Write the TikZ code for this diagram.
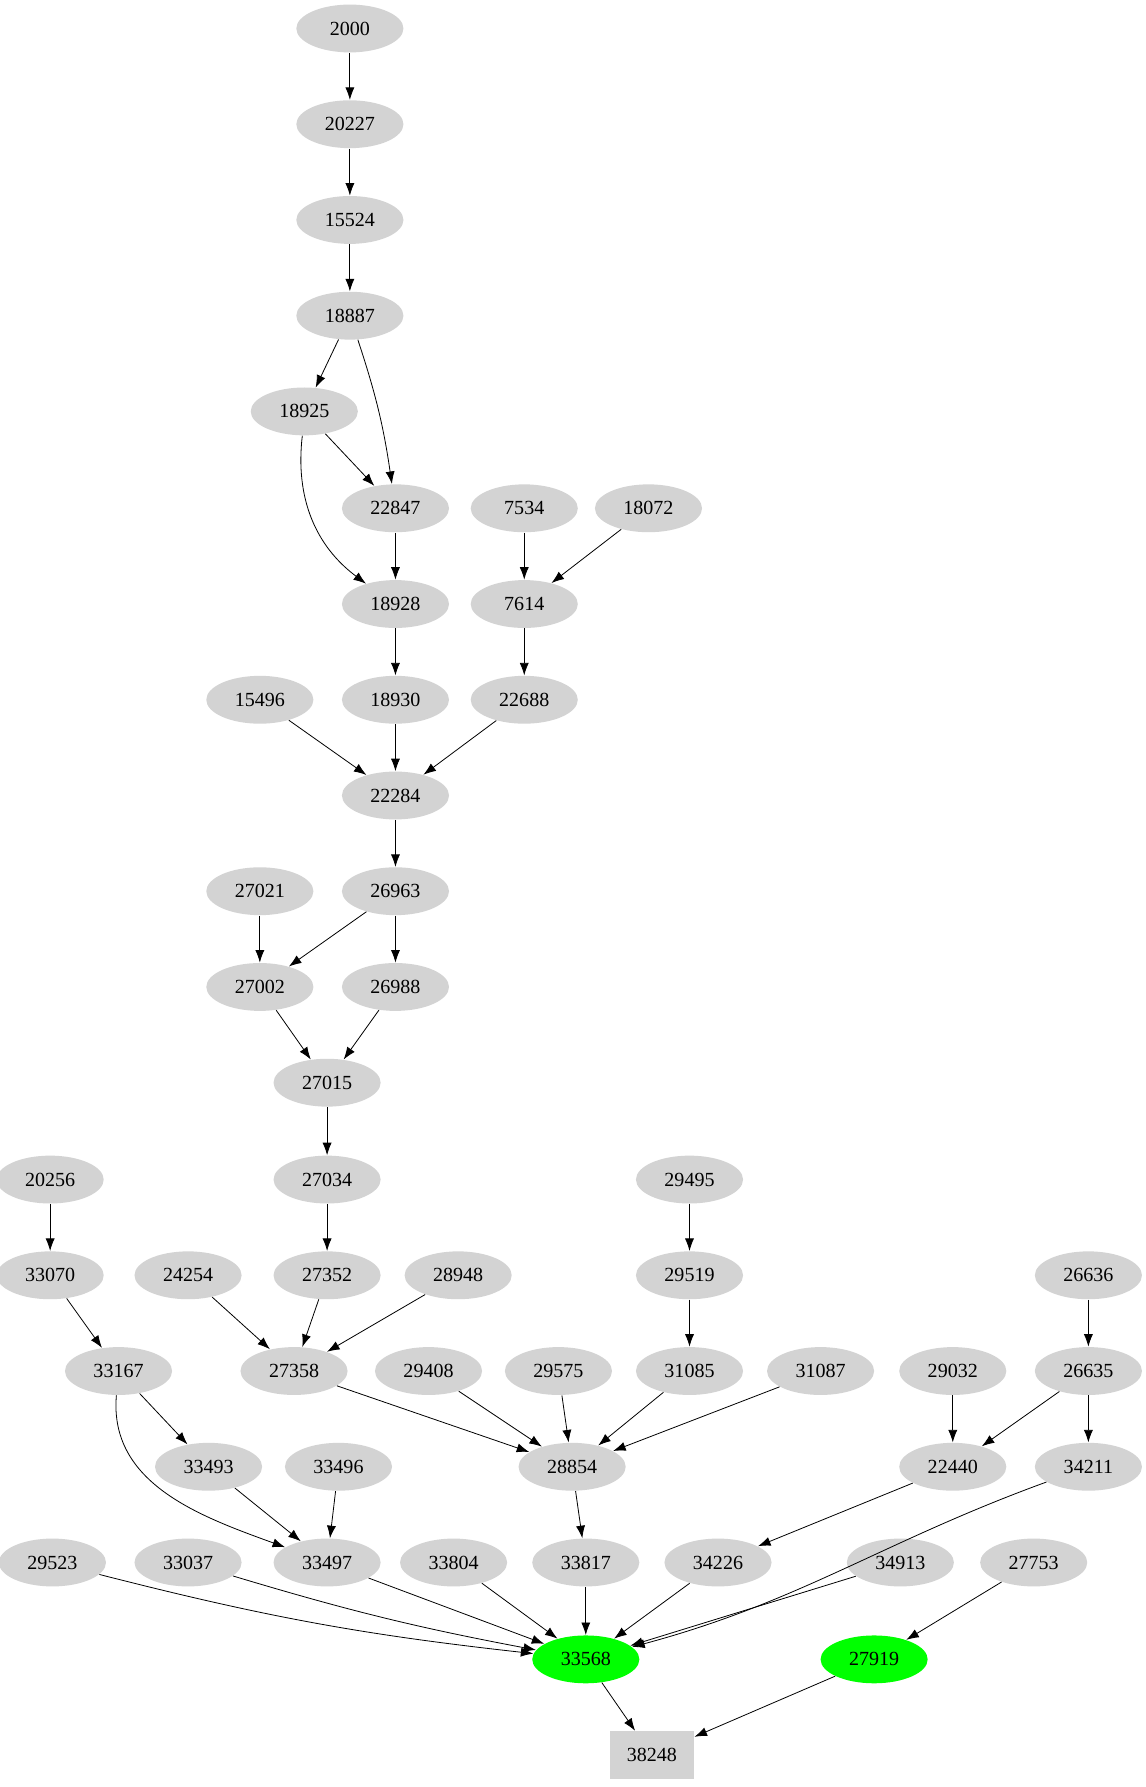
\documentclass[tikz,border=0pt]{standalone}
\usepackage{fontspec}
\setmainfont{Liberation Serif}
\usetikzlibrary{shapes.geometric,arrows.meta}
\definecolor{mygrey}{RGB}{211,211,211}
\definecolor{mygreen}{RGB}{0,255,0}

\begin{document}
\begin{tikzpicture}[x=0.02cm,y=-0.02cm,>={Latex[length=2.2mm,width=1.6mm]},
  gnode/.style={ellipse,fill=mygrey,minimum width=1.88cm,minimum height=0.84cm,inner sep=0pt,font=\fontsize{10}{12}\selectfont},
  hnode/.style={gnode,fill=mygreen},
  bnode/.style={rectangle,fill=mygrey,minimum width=1.48cm,minimum height=0.84cm,inner sep=0pt,font=\fontsize{10}{12}\selectfont}]

  \useasboundingbox (0,0) rectangle (1005,1568);

  % grey nodes
  \foreach \n/\x/\y in {2000/307/25,20227/307/109,15524/307/193,18887/307/277,
    18925/267/361,22847/347/446,7534/460/446,18072/569/446,18928/347/530,
    7614/460/530,15496/228/614,18930/347/614,22688/460/614,22284/347/698,
    27021/228/782,26963/347/782,27002/228/866,26988/347/866,27015/287/950,
    20256/44/1035,27034/287/1035,29495/605/1035,33070/44/1119,24254/165/1119,
    27352/287/1119,28948/402/1119,29519/605/1119,26636/955/1119,33167/104/1203,
    27358/258/1203,29408/376/1203,29575/490/1203,31085/605/1203,31087/720/1203,
    29032/836/1203,26635/955/1203,33493/183/1287,33496/297/1287,28854/502/1287,
    22440/836/1287,34211/955/1287,29523/46/1371,33037/165/1371,33497/287/1371,
    33804/398/1371,33817/514/1371,34226/630/1371,34913/790/1371,27753/907/1371}
    \node[gnode] (n\n) at (\x,\y) {\n};

  % highlighted nodes
  \node[hnode] (n33568) at (514,1456) {33568};
  \node[hnode] (n27919) at (767,1456) {27919};
  \node[bnode] (n38248) at (572,1540) {38248};

  % straight edges
  \foreach \a/\b in {2000/20227,20227/15524,15524/18887,18887/18925,18925/22847,
    22847/18928,7534/7614,18072/7614,18928/18930,7614/22688,15496/22284,
    18930/22284,22688/22284,22284/26963,27021/27002,26963/27002,26963/26988,
    27002/27015,26988/27015,27015/27034,27034/27352,24254/27358,27352/27358,
    28948/27358,20256/33070,33070/33167,33167/33493,33493/33497,33496/33497,
    29495/29519,29519/31085,27358/28854,29408/28854,29575/28854,31085/28854,
    31087/28854,26636/26635,29032/22440,26635/22440,26635/34211,28854/33817,
    22440/34226,33804/33568,33817/33568,34226/33568,34913/33568,27753/27919,
    33568/38248,27919/38248}
    \draw[->] (n\a) -- (n\b);

  % curved edges
  \draw[->] (n18887) to[bend left=5] (n22847);
  \draw[->] (n18925) to[bend right=30] (n18928);
  \draw[->] (n33167) to[out=-95,in=160] (n33497);
  \draw[->] (n34211) to[out=-160,in=15] (n33568);
  \draw[->] (n29523) to[bend right=4] (n33568);
  \draw[->] (n33037) to[bend right=3] (n33568);
  \draw[->] (n33497) to (n33568);

\end{tikzpicture}
\end{document}
